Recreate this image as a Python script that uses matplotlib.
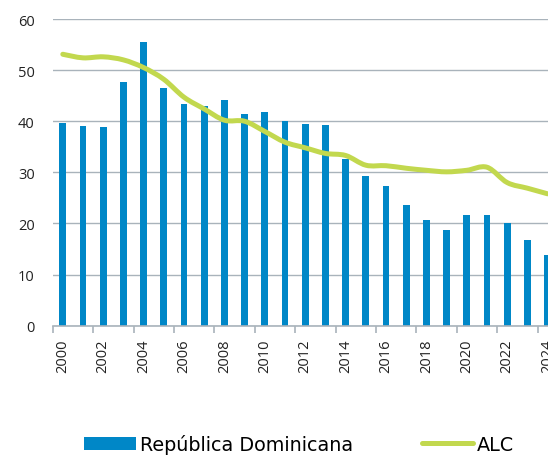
import matplotlib
matplotlib.use("Agg")
import matplotlib.pyplot as plt
from matplotlib.path import Path
from matplotlib.patches import PathPatch, Patch
from matplotlib.lines import Line2D
import numpy as np

years = list(range(2000, 2025))
rep_dom = [39.7, 39.1, 38.9, 47.7, 55.5, 46.5, 43.4, 42.9, 44.1, 41.4, 41.9,
           40.1, 39.4, 39.2, 32.7, 29.3, 27.3, 23.7, 20.7, 18.7, 21.6, 21.7,
           20.1, 16.8, 13.8]
alc = [53.1, 52.4, 52.6, 52.0, 50.5, 48.2, 44.7, 42.4, 40.2, 40.0, 38.0,
       35.9, 34.8, 33.7, 33.3, 31.4, 31.3, 30.8, 30.4, 30.1, 30.4, 31.0,
       28.0, 26.9, 25.8]
tick_labels = [str(y) for y in years[::2]]
legend_labels = ["República Dominicana", "ALC"]

BAR = "#0087C7"
LINE = "#C2D84E"
GRID = "#A9B3BB"
FONT = "Open Sans"
plt.rcParams['font.family'] = [FONT, 'DejaVu Sans']

W, H = 548, 456
fig = plt.figure(figsize=(W / 100, H / 100), dpi=100)
left = 52.7 / W
width = 25 * 20.2 / W
bottom = (H - 326.7) / H
height = (326.7 - 20) / H
ax = fig.add_axes([left, bottom, width, height])

x = np.arange(len(years))
ax.bar(x, rep_dom, width=0.33, color=BAR, zorder=2)

# smoothed line (Catmull-Rom style Bezier through data points)
pts = np.column_stack([x, alc]).astype(float)
n = len(pts)
verts = [tuple(pts[0])]
codes = [Path.MOVETO]
for i in range(n - 1):
    p0 = pts[i - 1] if i > 0 else pts[i]
    p1 = pts[i]
    p2 = pts[i + 1]
    p3 = pts[i + 2] if i + 2 < n else pts[i + 1]
    c1 = p1 + (p2 - p0) / 6.0
    c2 = p2 - (p3 - p1) / 6.0
    verts += [tuple(c1), tuple(c2), tuple(p2)]
    codes += [Path.CURVE4] * 3
ax.add_patch(PathPatch(Path(verts, codes), fill=False, edgecolor=LINE,
                       lw=3.6, capstyle='round', joinstyle='round', zorder=3))

ax.set_xlim(-0.5, len(years) - 0.5)
ax.set_ylim(0, 60)
ax.set_yticks(range(0, 61, 10))
ax.yaxis.grid(True, color=GRID, lw=1.0, zorder=0)
ax.set_axisbelow(True)
ax.tick_params(axis='y', length=0, pad=13, labelsize=10.5, labelcolor="#222222")

ax.set_xticks(x[::2])
ax.set_xticklabels(tick_labels, rotation=90)
ax.set_xticks(np.arange(-0.5, len(years), 2), minor=True)
ax.tick_params(axis='x', which='major', length=0, pad=9, labelsize=10.5, labelcolor="#222222")
ax.tick_params(axis='x', which='minor', length=5, width=1.2, color=GRID)

for s in ['top', 'right', 'left']:
    ax.spines[s].set_visible(False)
ax.spines['bottom'].set_color(GRID)
ax.spines['bottom'].set_linewidth(1.2)

handles = [Patch(facecolor=BAR, edgecolor='none'),
           Line2D([0], [0], color=LINE, lw=3.6, solid_capstyle='round')]
fig.legend(handles, legend_labels, loc='center left', ncol=2,
           bbox_to_anchor=(84 / W, 1 - 445 / H), frameon=False,
           prop={'family': ['DejaVu Sans'], 'size': 13.8},
           borderpad=0, borderaxespad=0, handlelength=2.7, handleheight=0.68,
           handletextpad=0.2, columnspacing=3.6)

fig.savefig("out.png", dpi=100)
